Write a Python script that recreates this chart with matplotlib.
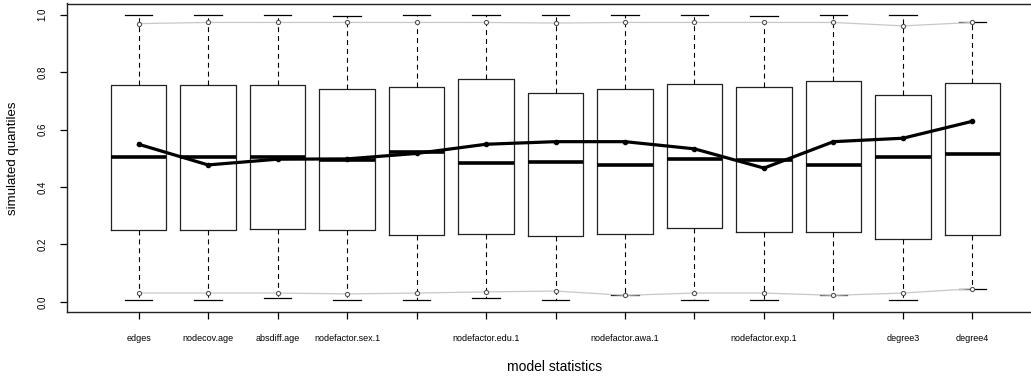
import matplotlib
matplotlib.use("Agg")
import matplotlib.pyplot as plt

plt.rcParams['font.family'] = ['Liberation Sans', 'DejaVu Sans']

# tick labels (R drops the ones that would overlap, so some are blank)
labels = ['edges', 'nodecov.age', 'absdiff.age', 'nodefactor.sex.1', '',
          'nodefactor.edu.1', '', 'nodefactor.awa.1', '', 'nodefactor.exp.1',
          '', 'degree3', 'degree4']

# simulated quantile boxes
whislo = [0.006, 0.006, 0.012, 0.006, 0.006, 0.012, 0.006, 0.023, 0.006, 0.006, 0.023, 0.006, 0.046]
q1     = [0.250, 0.252, 0.254, 0.252, 0.232, 0.237, 0.229, 0.237, 0.256, 0.243, 0.243, 0.218, 0.232]
med    = [0.503, 0.505, 0.505, 0.494, 0.523, 0.483, 0.488, 0.478, 0.498, 0.494, 0.478, 0.503, 0.516]
q3     = [0.754, 0.754, 0.754, 0.740, 0.748, 0.775, 0.729, 0.743, 0.760, 0.748, 0.769, 0.719, 0.762]
whishi = [1.000, 1.000, 1.000, 0.995, 1.000, 1.000, 1.000, 1.000, 1.000, 0.995, 1.000, 1.000, 0.973]

# observed statistic and the 2.5% / 97.5% bands
observed = [0.549, 0.477, 0.497, 0.498, 0.517, 0.549, 0.558, 0.558, 0.533, 0.466, 0.558, 0.570, 0.629]
upper    = [0.969, 0.973, 0.973, 0.973, 0.973, 0.973, 0.971, 0.973, 0.973, 0.973, 0.973, 0.961, 0.973]
lower    = [0.031, 0.031, 0.031, 0.028, 0.031, 0.035, 0.038, 0.023, 0.031, 0.031, 0.023, 0.031, 0.046]

pos = list(range(1, len(labels) + 1))

fig = plt.figure(figsize=(10.31, 3.81), dpi=100)
ax = fig.add_axes([67 / 1031, 1 - 312 / 381, (1044 - 67) / 1031, (312 - 3.5) / 381])

stats = []
for i in range(len(pos)):
    stats.append(dict(whislo=whislo[i], q1=q1[i], med=med[i], q3=q3[i],
                      whishi=whishi[i], fliers=[]))

ax.bxp(stats, positions=pos, widths=0.8, showfliers=False,
       boxprops=dict(color='#222222', linewidth=0.9),
       whiskerprops=dict(color='black', linewidth=0.8, linestyle=(0, (4.5, 3.5))),
       capprops=dict(color='black', linewidth=0.9),
       medianprops=dict(color='black', linewidth=2.6, solid_capstyle='butt'),
       capwidths=0.4)

ax.plot(pos, upper, color='#c8c8c8', linewidth=0.9, zorder=3)
ax.plot(pos, lower, color='#c8c8c8', linewidth=0.9, zorder=3)
ax.plot(pos, upper, linestyle='none', marker='o', markersize=3,
        markerfacecolor='white', markeredgecolor='#555555', markeredgewidth=0.8, zorder=4)
ax.plot(pos, lower, linestyle='none', marker='o', markersize=3,
        markerfacecolor='white', markeredgecolor='#555555', markeredgewidth=0.8, zorder=4)

ax.plot(pos, observed, color='black', linewidth=2.3, marker='o', markersize=3, zorder=5)

ax.set_xlim(-0.03, 14.03)
ax.set_ylim(-0.035, 1.039)
ax.set_xticks(pos)
ax.set_xticklabels(labels, fontsize=6.5)
ax.set_yticks([0.0, 0.2, 0.4, 0.6, 0.8, 1.0])
ax.set_yticklabels(['0.0', '0.2', '0.4', '0.6', '0.8', '1.0'], fontsize=7,
                   rotation=90, va='center')
ax.tick_params(axis='x', length=5, width=0.9, pad=11, colors='black')
ax.tick_params(axis='y', length=5, width=0.9, pad=9)
for s in ax.spines.values():
    s.set_linewidth(1.0)
    s.set_color('#222222')

fig.text(13 / 1031, 1 - 158 / 381, 'simulated quantiles', rotation=90,
         ha='center', va='center', fontsize=9.5)
fig.text(555 / 1031, 1 - 367 / 381, 'model statistics',
         ha='center', va='center', fontsize=10)

fig.savefig('out.png', dpi=100)
